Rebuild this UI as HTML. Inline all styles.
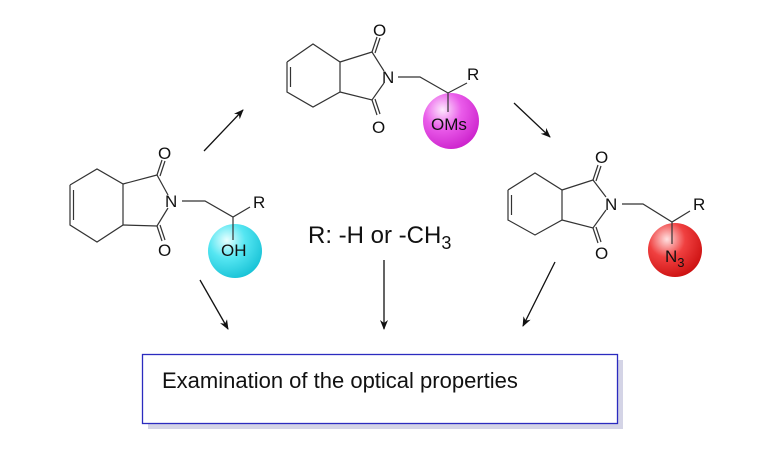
<!DOCTYPE html>
<html><head><meta charset="utf-8"><style>
html,body{margin:0;padding:0;background:#fff;}
svg{display:block;}
text{font-family:"Liberation Sans",Arial,sans-serif;fill:#111;}
</style></head><body>
<svg width="759" height="469" viewBox="0 0 759 469" xmlns="http://www.w3.org/2000/svg">
<defs>
<radialGradient id="gc" cx="0.35" cy="0.3" r="0.75"><stop offset="0" stop-color="#e8ffff"/><stop offset="0.45" stop-color="#55e6f2"/><stop offset="1" stop-color="#18c2d6"/></radialGradient>
<radialGradient id="gm" cx="0.35" cy="0.3" r="0.75"><stop offset="0" stop-color="#fde8fd"/><stop offset="0.45" stop-color="#ea5cea"/><stop offset="1" stop-color="#cc22cc"/></radialGradient>
<radialGradient id="gr" cx="0.35" cy="0.3" r="0.75"><stop offset="0" stop-color="#ffe0e0"/><stop offset="0.45" stop-color="#f04040"/><stop offset="1" stop-color="#cc1010"/></radialGradient>
<marker id="ah" markerWidth="10" markerHeight="8" refX="9" refY="4" orient="auto" markerUnits="userSpaceOnUse"><path d="M0,0 L10,4 L0,8 L3,4 Z" fill="#111"/></marker>
</defs>

<g stroke="#333" stroke-width="1.2" fill="none">
<polyline points="70,185 97,169 123,184 123,225 97,242 70,225 70,185"/>
<line x1="73.5" y1="190" x2="73.5" y2="220"/>
<polyline points="123,184 157,175 168,195"/>
<polyline points="123,225 157,226 168,208"/>
<line x1="157" y1="175" x2="162" y2="160"/><line x1="160" y1="176" x2="165" y2="161"/>
<line x1="157" y1="226" x2="162" y2="241"/><line x1="160" y1="225" x2="165" y2="240"/>
<polyline points="182,201 205,201 233,217 250,207"/>
<polyline points="287,62 313,44 340,62 340,92 313,107 287,92 287,62"/>
<line x1="290.5" y1="67" x2="290.5" y2="87"/>
<polyline points="340,62 372,52 384,71"/>
<polyline points="340,92 372,100 384,83"/>
<line x1="372" y1="52" x2="377" y2="37"/><line x1="375" y1="53" x2="380" y2="38"/>
<line x1="372" y1="100" x2="377" y2="115"/><line x1="375" y1="99" x2="380" y2="114"/>
<polyline points="398,77 420,77 448,93 467,83"/>
<polyline points="508,190 535,173 562,190 562,220 535,235 508,220 508,190"/>
<line x1="511.5" y1="195" x2="511.5" y2="215"/>
<polyline points="562,190 593,180 606,197"/>
<polyline points="562,220 593,228 606,210"/>
<line x1="593" y1="180" x2="598" y2="165"/><line x1="596" y1="181" x2="601" y2="166"/>
<line x1="593" y1="228" x2="598" y2="243"/><line x1="596" y1="227" x2="601" y2="242"/>
<polyline points="622,204 643,204 672,222 690,211"/>
</g>

<circle cx="235" cy="251" r="27" fill="url(#gc)"/>
<circle cx="451" cy="121" r="28" fill="url(#gm)"/>
<circle cx="675" cy="250" r="27" fill="url(#gr)"/>
<g stroke="#333" stroke-width="1.2">
<line x1="233" y1="217" x2="233" y2="240"/>
<line x1="448" y1="93" x2="448" y2="112"/>
<line x1="672" y1="222" x2="672" y2="244"/>
</g>

<g font-size="17">
<text x="158" y="159">O</text>
<text x="158" y="256">O</text>
<text x="165" y="207">N</text>
<text x="253" y="208">R</text>
<text x="221" y="256">OH</text>
<text x="373" y="36">O</text>
<text x="372" y="133">O</text>
<text x="382" y="83">N</text>
<text x="467" y="80">R</text>
<text x="431" y="130">OMs</text>
<text x="595" y="163">O</text>
<text x="595" y="259">O</text>
<text x="605" y="210">N</text>
<text x="693" y="210">R</text>
<text x="665" y="262">N<tspan font-size="13" dy="5">3</tspan></text>
</g>

<text x="308" y="243" font-size="24">R: -H or -CH<tspan font-size="18" dy="6">3</tspan></text>

<g stroke="#111" stroke-width="1.3" marker-end="url(#ah)">
<line x1="204" y1="151" x2="243" y2="110"/>
<line x1="514" y1="103" x2="550" y2="137"/>
<line x1="200" y1="280" x2="228" y2="329"/>
<line x1="384" y1="260" x2="384" y2="329"/>
<line x1="555" y1="262" x2="523" y2="326"/>
</g>

<rect x="148" y="360" width="475" height="69" fill="#d4d4e6"/>
<rect x="142.5" y="354.5" width="475" height="69" fill="#fff" stroke="#2b2bbf" stroke-width="1.3"/>
<text x="162" y="388" font-size="22">Examination of the optical properties</text>
</svg>
</body></html>
